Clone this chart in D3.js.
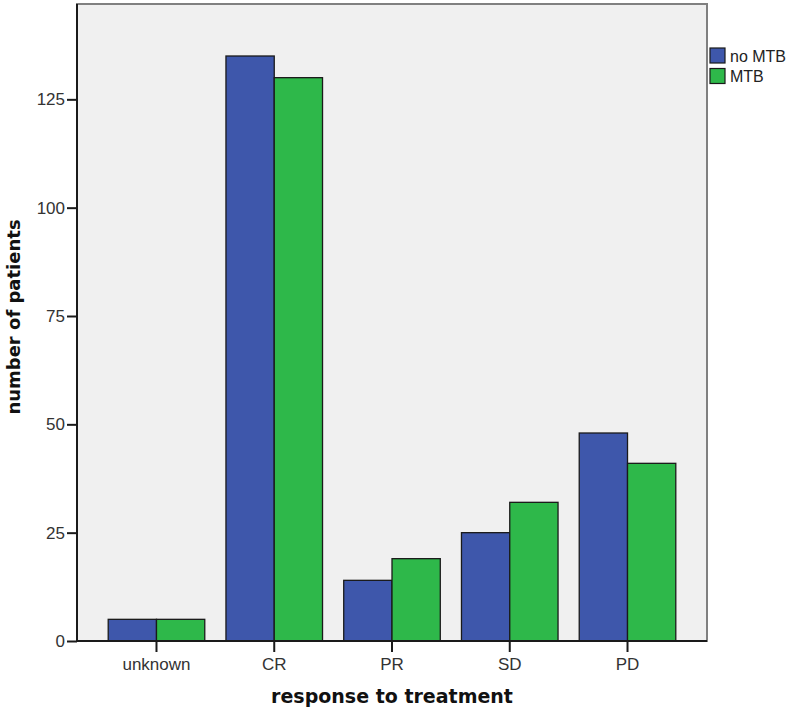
<!DOCTYPE html>
<html>
<head>
<meta charset="utf-8">
<script src="https://cdn.jsdelivr.net/npm/d3@7"></script>
<style>
  body { margin: 0; background: #fff; }
  svg text { font-family: "Liberation Sans", Arial, sans-serif; }
</style>
</head>
<body>
<script>
var categories = ["unknown", "CR", "PR", "SD", "PD"];
var seriesNames = ["no MTB", "MTB"];
var noMTB = [5, 135, 14, 25, 48];
var MTB = [5, 130, 19, 32, 41];
var yTicks = [0, 25, 50, 75, 100, 125];
var colors = ["#3e57ab", "#2eb84a"];

var width = 787, height = 714;
var plotLeft = 77, plotRight = 707, plotTop = 4, plotBottom = 641;

var svg = d3.select("body").append("svg")
    .attr("width", width)
    .attr("height", height);

var x = d3.scaleBand()
    .domain(categories)
    .range([plotLeft, plotRight])
    .paddingInner(0.18)
    .paddingOuter(0.265);

var x1 = d3.scaleBand()
    .domain(seriesNames)
    .range([0, x.bandwidth()]);

var y = d3.scaleLinear()
    .domain([0, 147])
    .range([plotBottom, plotTop]);

// plot background and frame
svg.append("rect")
    .attr("x", plotLeft)
    .attr("y", plotTop)
    .attr("width", plotRight - plotLeft)
    .attr("height", plotBottom - plotTop)
    .style("fill", "#f0f0f0")
    .style("stroke", "#808080")
    .style("stroke-width", 2);

var rows = categories.map(function (c, i) {
    return { cat: c, values: [noMTB[i], MTB[i]] };
});

var groups = svg.selectAll(".grp")
    .data(rows)
    .enter().append("g")
    .attr("transform", function (d) { return "translate(" + x(d.cat) + ",0)"; });

groups.selectAll("rect")
    .data(function (d) {
        return d.values.map(function (v, i) { return { name: seriesNames[i], value: v, i: i }; });
    })
    .enter().append("rect")
    .attr("x", function (d) { return x1(d.name); })
    .attr("y", function (d) { return y(d.value); })
    .attr("width", x1.bandwidth())
    .attr("height", function (d) { return plotBottom - y(d.value); })
    .style("fill", function (d) { return colors[d.i]; })
    .style("stroke", "#1a1a1a")
    .style("stroke-width", 1.3);

// axes
var yAxis = svg.append("g")
    .attr("transform", "translate(" + plotLeft + ",0)")
    .call(d3.axisLeft(y).tickValues(yTicks).tickSize(10).tickSizeOuter(0).tickPadding(2));
yAxis.select(".domain").attr("stroke", "#1a1a1a").attr("stroke-width", 2).attr("d", "M0," + plotBottom + "V" + plotTop);
yAxis.selectAll("line").attr("stroke", "#1a1a1a").attr("stroke-width", 2);
yAxis.selectAll("text")
    .style("font-size", "17px")
    .style("fill", "#333");

var xAxis = svg.append("g")
    .attr("transform", "translate(0," + plotBottom + ")")
    .call(d3.axisBottom(x).tickSize(11).tickSizeOuter(0).tickPadding(6));
xAxis.select(".domain").attr("stroke", "#1a1a1a").attr("stroke-width", 2).attr("d", "M" + plotLeft + ",0H" + plotRight);
xAxis.selectAll("line").attr("stroke", "#1a1a1a").attr("stroke-width", 2);
xAxis.selectAll("text")
    .style("font-size", "17px")
    .style("fill", "#333");

// axis titles
svg.append("text")
    .attr("x", 392)
    .attr("y", 703)
    .attr("text-anchor", "middle")
    .style("font-family", "'DejaVu Sans', Verdana, sans-serif")
    .style("font-weight", "bold")
    .style("font-size", "19px")
    .style("fill", "#111")
    .text("response to treatment");

svg.append("text")
    .attr("transform", "translate(20,317) rotate(-90)")
    .attr("text-anchor", "middle")
    .style("font-family", "'DejaVu Sans', Verdana, sans-serif")
    .style("font-weight", "bold")
    .style("font-size", "18px")
    .style("fill", "#111")
    .text("number of patients");

// legend
var legend = svg.selectAll(".legend")
    .data(seriesNames)
    .enter().append("g")
    .attr("transform", function (d, i) { return "translate(710," + (48 + i * 20.5) + ")"; });

legend.append("rect")
    .attr("width", 15)
    .attr("height", 15)
    .style("fill", function (d, i) { return colors[i]; })
    .style("stroke", "#1a1a1a")
    .style("stroke-width", 1.2);

legend.append("text")
    .attr("x", 20)
    .attr("y", 8)
    .attr("dy", "0.35em")
    .style("font-size", "16px")
    .style("fill", "#222")
    .text(function (d) { return d; });
</script>
</body>
</html>
